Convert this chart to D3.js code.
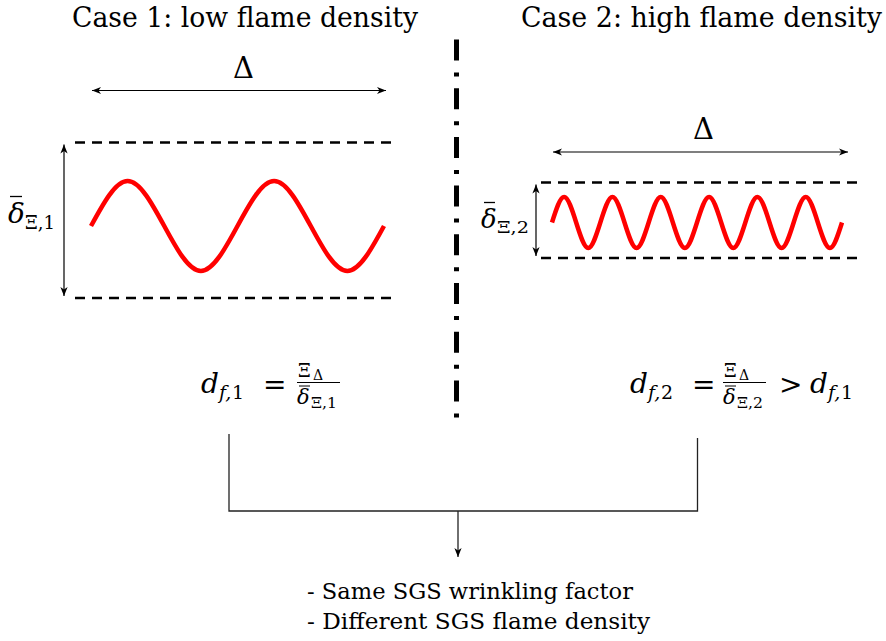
<!DOCTYPE html>
<html><head><meta charset="utf-8">
<script src="https://cdn.jsdelivr.net/npm/d3@7"></script>
<style>
body{margin:0;background:#fff}
</style>
</head><body>
<svg id="c" width="886" height="641"></svg>
<script>
// ---- data ----
const caseTitles = ["Case 1: low flame density", "Case 2: high flame density"];
// flame front samples at quarter-period steps (normalised height, -1..1)
const waveCase1 = [0,1,0,-1, 0,1,0,-1, 0];
const waveCase2 = [0,1,0,-1, 0,1,0,-1, 0,1,0,-1, 0,1,0,-1, 0,1,0,-1, 0,1,0,-1, 0];
const conclusions = ["- Same SGS wrinkling factor", "- Different SGS flame density"];

const FONT = "'DejaVu Serif', serif";
const svg = d3.select("#c");
const defs = svg.append("defs");
defs.append("marker").attr("id","ah").attr("viewBox","-10 -5 12 10")
  .attr("refX",0).attr("refY",0).attr("markerWidth",12).attr("markerHeight",10)
  .attr("markerUnits","userSpaceOnUse").attr("orient","auto-start-reverse")
  .append("path").attr("d","M0,0 L-9,-3.6 L-6.5,0 L-9,3.6 Z").attr("fill","#000");

// ---- panels ----
const panels = [
  {wave: waveCase1, x0: 91, x1: 384, yTop: 181, yBot: 271, dashTop: 142.5, dashBot: 298, dx0: 75, dx1: 392,
   varrowX: 64, harrowY: 90.5, hx0: 92, hx1: 386, deltaX: 243.5, deltaY: 78, sw: 4.5},
  {wave: waveCase2, x0: 552, x1: 842, yTop: 197, yBot: 248, dashTop: 182.5, dashBot: 258, dx0: 541, dx1: 857,
   varrowX: 536, harrowY: 152, hx0: 553, hx1: 848, deltaX: 703.5, deltaY: 139, sw: 4.5}
];

function txt(x, y, t, size, italic){
  return svg.append("text").attr("x",x).attr("y",y).attr("font-size",size)
    .attr("font-family", FONT)
    .attr("font-style", italic ? "italic" : "normal").attr("fill","#000").text(t);
}
function hline(x1, x2, yy, w){
  svg.append("line").attr("x1",x1).attr("x2",x2).attr("y1",yy).attr("y2",yy)
    .attr("stroke","#000").attr("stroke-width",w);
}

panels.forEach(p => {
  const x = d3.scaleLinear().domain([0, p.wave.length - 1]).range([p.x0, p.x1]);
  const y = d3.scaleLinear().domain([-1, 1]).range([p.yBot, p.yTop]);
  [p.dashTop, p.dashBot].forEach(yy => {
    svg.append("line").attr("x1",p.dx0).attr("x2",p.dx1).attr("y1",yy).attr("y2",yy)
      .attr("stroke","#000").attr("stroke-width",2.6).attr("stroke-dasharray","10,7");
  });
  svg.append("path").datum(p.wave)
    .attr("d", d3.line().x((d,i)=>x(i)).y(d=>y(d)).curve(d3.curveNatural))
    .attr("fill","none").attr("stroke","#ff0000").attr("stroke-width",p.sw);
  svg.append("line").attr("x1",p.varrowX).attr("x2",p.varrowX)
    .attr("y1",p.dashTop+2).attr("y2",p.dashBot-2)
    .attr("stroke","#000").attr("stroke-width",1.2)
    .attr("marker-start","url(#ah)").attr("marker-end","url(#ah)");
  svg.append("line").attr("x1",p.hx0).attr("x2",p.hx1)
    .attr("y1",p.harrowY).attr("y2",p.harrowY)
    .attr("stroke","#000").attr("stroke-width",1.2)
    .attr("marker-start","url(#ah)").attr("marker-end","url(#ah)");
  txt(p.deltaX, p.deltaY, "Δ", 29, false).attr("text-anchor","middle");
});

// titles
txt(72, 27, caseTitles[0], 27, false).attr("textLength",346).attr("lengthAdjust","spacingAndGlyphs");
txt(521, 27, caseTitles[1], 27, false).attr("textLength",361).attr("lengthAdjust","spacingAndGlyphs");

// delta-bar labels
hline(10, 22, 196.5, 1.3);
txt(8, 223, "δ", 28, true);
txt(25, 229, "Ξ,1", 18, false).attr("textLength",30).attr("lengthAdjust","spacingAndGlyphs");

hline(484, 495, 202.5, 1.3);
txt(481, 228, "δ", 26, true);
txt(497, 233, "Ξ,2", 17, false).attr("textLength",32).attr("lengthAdjust","spacingAndGlyphs");

// formulas
function dsub(xd, sub){
  txt(xd, 393, "d", 28, true);
  txt(xd+18, 399, "f,", 19, true);
  txt(xd+31, 399, sub, 19, false);
}
function formula(xd, sub, xeq, xfr){
  dsub(xd, sub);
  txt(xeq, 394, "=", 28, false);
  txt(xfr+1, 377, "Ξ", 18, false);
  txt(xfr+16, 380, "Δ", 14, false);
  hline(xfr, xfr+43, 382.5, 1);
  hline(xfr+2, xfr+13, 386, 1);
  txt(xfr, 404, "δ", 21, true);
  txt(xfr+14, 408, "Ξ," + sub, 14, false).attr("textLength",26).attr("lengthAdjust","spacingAndGlyphs");
}
formula(201, "1", 263, 297);
formula(630, "2", 692, 723);
txt(779, 394, ">", 28, false);
dsub(810, "1");

// dash-dot separator
svg.append("line").attr("x1",456.5).attr("x2",456.5).attr("y1",39.5).attr("y2",418)
  .attr("stroke","#000").attr("stroke-width",5)
  .attr("stroke-dasharray","21,12,4,11.7");

// bracket
svg.append("path").attr("d","M229,434 V511 H697.5 V438")
  .attr("fill","none").attr("stroke","#222").attr("stroke-width",1.3);
svg.append("line").attr("x1",458).attr("x2",458).attr("y1",511).attr("y2",557)
  .attr("stroke","#222").attr("stroke-width",1.3).attr("marker-end","url(#ah)");

// conclusions
conclusions.forEach((t,i) => {
  txt(307, 599 + i*30, t, 23, false)
    .attr("textLength", i===0 ? 326 : 343).attr("lengthAdjust","spacingAndGlyphs");
});
</script>
</body></html>
